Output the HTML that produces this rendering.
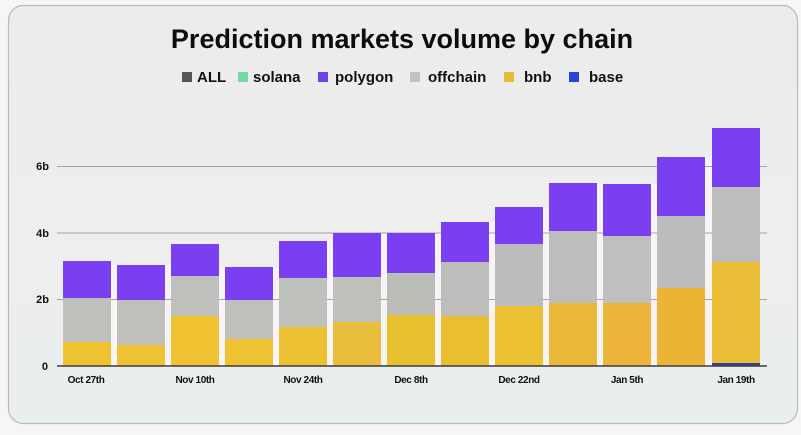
<!DOCTYPE html>
<html><head><meta charset="utf-8"><style>
html,body{margin:0;padding:0;width:801px;height:435px;overflow:hidden;background:#f6f6f6;}
svg{display:block;font-family:"Liberation Sans",Arial,sans-serif;}
</style></head><body>
<svg width="801" height="435" viewBox="0 0 801 435" xmlns="http://www.w3.org/2000/svg">
<defs>
<linearGradient id="cardbg" x1="0" y1="0" x2="0" y2="1">
<stop offset="0" stop-color="#ececec"/>
<stop offset="0.6" stop-color="#eeeeee"/>
<stop offset="1" stop-color="#e9eeee"/>
</linearGradient>
</defs>
<rect x="0" y="0" width="801" height="435" fill="#f6f6f6"/>
<rect x="8.5" y="5.5" width="789" height="418" rx="15" ry="15" fill="url(#cardbg)" stroke="#b9b9b9" stroke-width="1.2"/>
<text x="402" y="48" text-anchor="middle" font-size="27" font-weight="bold" fill="#0d0d0d">Prediction markets volume by chain</text>
<g font-size="15" font-weight="bold" fill="#111">
<rect x="182" y="72" width="10" height="10" fill="#555555"/><text x="197" y="82">ALL</text>
<rect x="238" y="72" width="10" height="10" fill="#72dda0"/><text x="253" y="82">solana</text>
<rect x="318" y="72" width="10" height="10" fill="#6b46dd"/><text x="335" y="82">polygon</text>
<rect x="410" y="72" width="10" height="10" fill="#c2c2c2"/><text x="428" y="82">offchain</text>
<rect x="504" y="72" width="10" height="10" fill="#e2be3a"/><text x="524" y="82">bnb</text>
<rect x="569" y="72" width="10" height="10" fill="#2544d6"/><text x="589" y="82">base</text>
</g>
<g fill="#f8f6f8" opacity="0.85">
<rect x="111" y="265" width="6" height="101"/>
<rect x="165" y="265" width="6" height="101"/>
<rect x="219" y="267" width="6" height="99"/>
<rect x="273" y="267" width="6" height="99"/>
<rect x="327" y="241" width="6" height="125"/>
<rect x="381" y="233" width="6" height="133"/>
<rect x="435" y="233" width="6" height="133"/>
<rect x="489" y="222" width="6" height="144"/>
<rect x="543" y="207" width="6" height="159"/>
<rect x="597" y="184" width="6" height="182"/>
<rect x="651" y="184" width="6" height="182"/>
<rect x="705" y="157" width="7" height="209"/>
</g>
<g stroke="#a3a3a3" stroke-width="1">
<line x1="57" y1="166.5" x2="767" y2="166.5"/>
<line x1="57" y1="233" x2="767" y2="233"/>
<line x1="57" y1="299.5" x2="767" y2="299.5"/>
</g>
<g font-size="11" font-weight="bold" fill="#111" text-anchor="end">
<text x="49" y="170">6b</text>
<text x="49" y="237">4b</text>
<text x="49" y="303">2b</text>
<text x="48" y="370">0</text>
</g>
<g id="bars">
<rect x="63" y="261" width="48" height="37" fill="#7b3ff2"/><rect x="63" y="298" width="48" height="44" fill="#bfc0bc"/><rect x="63" y="342" width="48" height="24" fill="#eec231"/>
<rect x="117" y="265" width="48" height="35" fill="#7b3ff2"/><rect x="117" y="300" width="48" height="45" fill="#bfc0bc"/><rect x="117" y="345" width="48" height="21" fill="#eec231"/>
<rect x="171" y="244" width="48" height="32" fill="#7b3ff2"/><rect x="171" y="276" width="48" height="40" fill="#bfc0bc"/><rect x="171" y="316" width="48" height="50" fill="#f0c232"/>
<rect x="225" y="267" width="48" height="33" fill="#7b3ff2"/><rect x="225" y="300" width="48" height="39" fill="#bfc0bc"/><rect x="225" y="339" width="48" height="27" fill="#eec231"/>
<rect x="279" y="241" width="48" height="37" fill="#7b3ff2"/><rect x="279" y="278" width="48" height="49" fill="#bfc1bc"/><rect x="279" y="327" width="48" height="39" fill="#ecc131"/>
<rect x="333" y="233" width="48" height="44" fill="#7b3ff2"/><rect x="333" y="277" width="48" height="45" fill="#c0c0bb"/><rect x="333" y="322" width="48" height="44" fill="#e8be3c"/>
<rect x="387" y="233" width="48" height="40" fill="#7b3ff2"/><rect x="387" y="273" width="48" height="42" fill="#bcbcb8"/><rect x="387" y="315" width="48" height="51" fill="#e8c131"/>
<rect x="441" y="222" width="48" height="40" fill="#7b3ff2"/><rect x="441" y="262" width="48" height="54" fill="#bdbdbb"/><rect x="441" y="316" width="48" height="50" fill="#e9be30"/>
<rect x="495" y="207" width="48" height="37" fill="#7b3ff2"/><rect x="495" y="244" width="48" height="62" fill="#bcbcbc"/><rect x="495" y="306" width="48" height="60" fill="#ecc133"/>
<rect x="549" y="183" width="48" height="48" fill="#7b3ff2"/><rect x="549" y="231" width="48" height="72" fill="#bdbdbd"/><rect x="549" y="303" width="48" height="63" fill="#ebb93a"/>
<rect x="603" y="184" width="48" height="52" fill="#7b3ff2"/><rect x="603" y="236" width="48" height="67" fill="#bfbfbd"/><rect x="603" y="303" width="48" height="63" fill="#edb53b"/>
<rect x="657" y="157" width="48" height="59" fill="#7b3ff2"/><rect x="657" y="216" width="48" height="72" fill="#bcbcbc"/><rect x="657" y="288" width="48" height="78" fill="#ecb434"/>
<rect x="712" y="128" width="48" height="59" fill="#7b3ff2"/><rect x="712" y="187" width="48" height="75" fill="#bcbdbc"/><rect x="712" y="262" width="48" height="101" fill="#e9bd36"/><rect x="712" y="363" width="48" height="3" fill="#3b3d9e"/>
</g>
<line x1="57" y1="366" x2="767" y2="366" stroke="#3a3a3a" stroke-width="1.5"/>
<g font-size="10" font-weight="bold" fill="#111" text-anchor="middle" letter-spacing="-0.4">
<text x="86" y="383">Oct 27th</text>
<text x="195" y="383">Nov 10th</text>
<text x="303" y="383">Nov 24th</text>
<text x="411" y="383">Dec 8th</text>
<text x="519" y="383">Dec 22nd</text>
<text x="627" y="383">Jan 5th</text>
<text x="736" y="383">Jan 19th</text>
</g>
</svg>
</body></html>
